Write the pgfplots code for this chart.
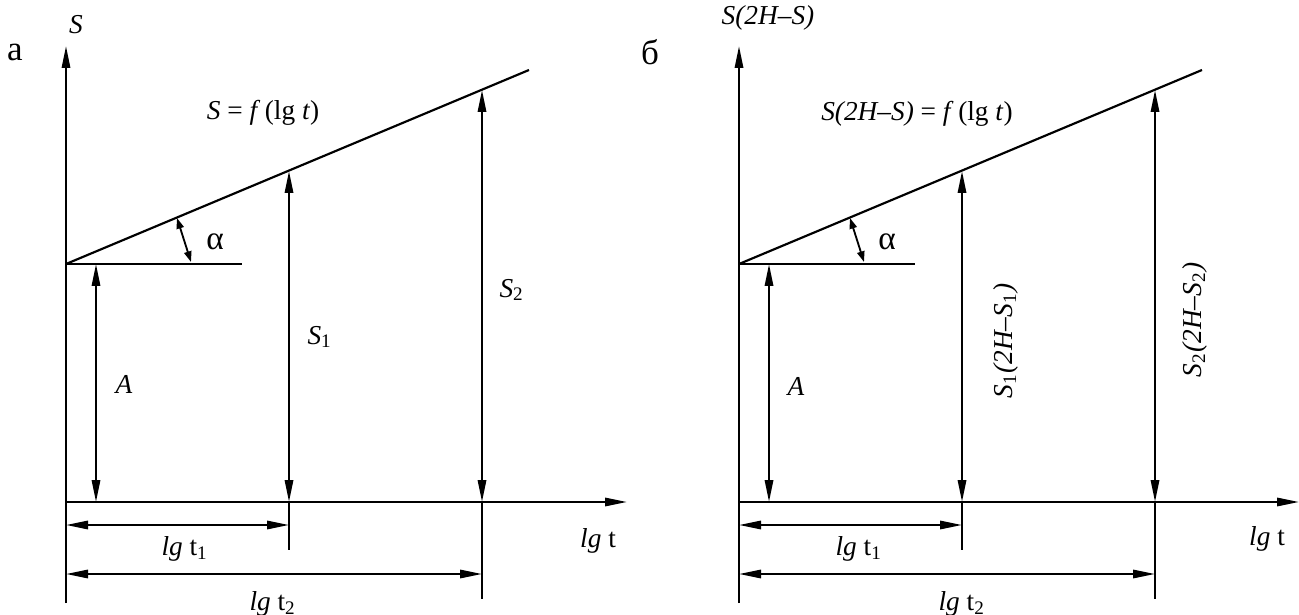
\documentclass[border=0pt]{standalone}
\usepackage{fontspec}
\setmainfont{Liberation Serif}
\usepackage{pgfplots}
\pgfplotsset{compat=1.18}
\usetikzlibrary{arrows.meta}

\tikzset{
  tip/.style={-{Triangle[length=6.6pt,width=2.5pt]}},
  tips/.style={{Triangle[length=6.6pt,width=2.5pt]}-{Triangle[length=6.6pt,width=2.5pt]}},
  smalltips/.style={{Triangle[length=3.2pt,width=2.2pt]}-{Triangle[length=3.2pt,width=2.2pt]}},
  lbl/.style={font=\rmfamily\fontsize{8.2}{9}\selectfont,inner sep=0pt},
  alph/.style={font=\rmfamily\fontsize{10}{11}\selectfont,inner sep=0pt},
  panel/.style={font=\rmfamily\fontsize{10.5}{11}\selectfont,inner sep=0pt},
}

\begin{document}
\begin{tikzpicture}
\begin{axis}[at={(0,0)},anchor=south west,scale only axis,
  width=389.7pt,height=184.2pt,
  xmin=0,xmax=1299,ymin=0,ymax=614,y dir=reverse,
  hide axis,clip=false,
  cycle list={{black,solid,line width=0.65pt,mark=none}},
  every axis plot/.append style={black,line width=0.65pt,mark=none}]

% ---- panel a
\addplot+[tip] coordinates {(66,603) (66,46)};
\addplot+[tip] coordinates {(66,502) (627,502)};
\addplot+[] coordinates {(66,264) (529,70)};
\addplot+[] coordinates {(66,264) (242,264)};
\addplot+[tips] coordinates {(96,264) (96,502)};
\addplot+[tips] coordinates {(289,171) (289,502)};
\addplot+[tips] coordinates {(482,90) (482,502)};
\addplot+[] coordinates {(289,502) (289,550)};
\addplot+[] coordinates {(482,502) (482,599)};
\addplot+[tips] coordinates {(66,525) (289,525)};
\addplot+[tips] coordinates {(66,574) (482,574)};
\addplot+[smalltips,line width=0.55pt] coordinates {(177,218) (191,262)};

\node[panel] at (axis cs:15,52) {а};
\node[lbl] at (axis cs:76,25) {\textit{S}};
\node[lbl] at (axis cs:263,113) {\textit{S} = \textit{f}\,(lg \textit{t})};
\node[alph] at (axis cs:215,242) {α};
\node[lbl] at (axis cs:124,384) {\textit{A}};
\node[lbl] at (axis cs:320,337) {\textit{S}\textsubscript{1}};
\node[lbl] at (axis cs:512,290) {\textit{S}\textsubscript{2}};
\node[lbl] at (axis cs:598,541) {\textit{lg} t};
\node[lbl] at (axis cs:185,549) {\textit{lg} t\textsubscript{1}};
\node[lbl] at (axis cs:273,604) {\textit{lg} t\textsubscript{2}};

% ---- panel б
\addplot+[tip] coordinates {(739,603) (739,46)};
\addplot+[tip] coordinates {(739,502) (1299,502)};
\addplot+[] coordinates {(739,264) (1202,70)};
\addplot+[] coordinates {(739,264) (915,264)};
\addplot+[tips] coordinates {(769,264) (769,502)};
\addplot+[tips] coordinates {(962,171) (962,502)};
\addplot+[tips] coordinates {(1155,90) (1155,502)};
\addplot+[] coordinates {(962,502) (962,550)};
\addplot+[] coordinates {(1155,502) (1155,599)};
\addplot+[tips] coordinates {(739,525) (962,525)};
\addplot+[tips] coordinates {(739,574) (1155,574)};
\addplot+[smalltips,line width=0.55pt] coordinates {(850,218) (864,262)};

\node[panel] at (axis cs:650,52) {б};
\node[lbl] at (axis cs:768,18) {\textit{S(2H–S)}};
\node[lbl] at (axis cs:917,114) {\textit{S(2H–S)} = \textit{f}\,(lg \textit{t})};
\node[alph] at (axis cs:887,242) {α};
\node[lbl] at (axis cs:796,386) {\textit{A}};
\node[lbl,rotate=90] at (axis cs:1006,341) {\textit{S}\textsubscript{1}\textit{(2H–S}\textsubscript{1}\textit{)}};
\node[lbl,rotate=90] at (axis cs:1195,320) {\textit{S}\textsubscript{2}\textit{(2H–S}\textsubscript{2}\textit{)}};
\node[lbl] at (axis cs:1267,539) {\textit{lg} t};
\node[lbl] at (axis cs:859,549) {\textit{lg} t\textsubscript{1}};
\node[lbl] at (axis cs:962,604) {\textit{lg} t\textsubscript{2}};
\end{axis}
\pgfresetboundingbox
\useasboundingbox (0,0) rectangle (389.7pt,184.2pt);
\end{tikzpicture}
\end{document}
